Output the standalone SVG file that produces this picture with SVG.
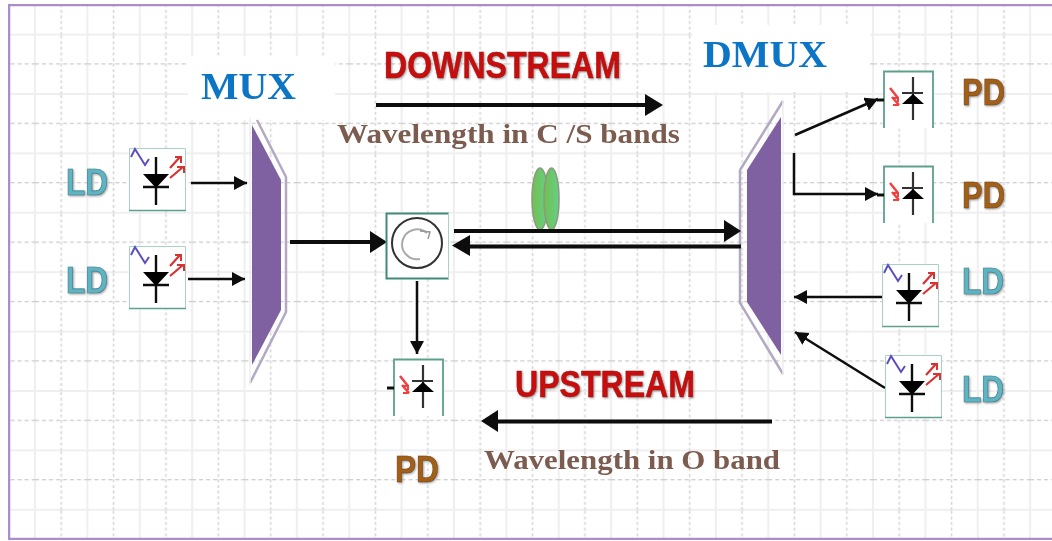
<svg xmlns="http://www.w3.org/2000/svg" width="1052" height="541" viewBox="0 0 1052 541">
<style>
.ld{font:bold 37px "Liberation Sans",Arial,sans-serif;fill:#5fb4c4;stroke:#3f7f8c;stroke-width:.7;filter:url(#sh)}
.pd{font:bold 36px "Liberation Sans",Arial,sans-serif;fill:#a25e16;stroke:#6e4010;stroke-width:.5;filter:url(#sh)}
.ttl{font:bold 37px "Liberation Serif","Times New Roman",serif;fill:#0b74c6}
.dir{font:bold 36px "Liberation Sans",Arial,sans-serif;fill:#c90a0a;stroke:#9c0606;stroke-width:.5;filter:url(#sh)}
.wl{font:bold 27px "Liberation Serif","Times New Roman",serif;fill:#7b5b50}
.mx{fill:#7f60a0;stroke:none}
.mo{fill:none;stroke:#b3a9c2;stroke-width:2.5}
.c{fill:none;stroke:#111;stroke-width:2.5}
.t{fill:none;stroke:#0a0a0a;stroke-width:4}
.box{fill:#fff}
</style>
<defs>
<filter id="soft" x="0" y="0" width="100%" height="100%"><feGaussianBlur stdDeviation=".6"/></filter>
<filter id="sh" x="-10%" y="-10%" width="125%" height="130%"><feDropShadow dx="1" dy="1" stdDeviation="1" flood-color="#555" flood-opacity=".6"/></filter>
<linearGradient id="gr" x1="0" y1="0" x2="1" y2="0"><stop offset="0" stop-color="#74bf4e"/><stop offset="1" stop-color="#64d088"/></linearGradient>
<pattern id="grid" patternUnits="userSpaceOnUse" x="35" y="34.6" width="52.375" height="59.4">
<path d="M0 0V59.4M52.375 0V59.4M0 0H52.375M0 59.4H52.375" fill="none" stroke="#efefef" stroke-width="2.2"/>
<path d="M26.2 1V59.4" fill="none" stroke="#d6d6d6" stroke-width="1.6" stroke-dasharray="3 2.6"/>
<path d="M0 29.3H52.375" fill="none" stroke="#cbcbcb" stroke-width="1.3" stroke-dasharray="4 3"/>
</pattern>
<marker id="hs" markerUnits="userSpaceOnUse" markerWidth="14" markerHeight="15" refX="13" refY="7" orient="auto"><path d="M0 0L13 7L0 14Z" fill="#0a0a0a"/></marker>
<g id="ldi">
<rect class="box" width="57" height="63"/>
<path d="M.5 62.500V.5H56.500V62.500" fill="none" stroke="#a9cfc6" stroke-width="1"/>
<path d="M0 62.500H57" stroke="#5f9f90" stroke-width="1.500"/>
<path d="M27 9V57M14 39H40" stroke="#111" stroke-width="2.400" fill="none"/>
<path d="M14 26H40L27 40Z" fill="#000"/>
<path d="M2 9L6 1L16 17L20 11" fill="none" stroke="#5a4fc0" stroke-width="2"/>
<path d="M41 20L51 9M41 30L54 19" stroke="#d83030" stroke-width="2.200" fill="none"/>
<path d="M46 9H52V15M48 19H55V25" stroke="#d83030" stroke-width="2" fill="none"/>
</g>
<g id="pdi">
<rect class="box" x="-1" width="51" height="57"/>
<path d="M0 57V.5H49V57" fill="none" stroke="#5f9f90" stroke-width="1.800"/>
<path d="M-7 29H0" stroke="#111" stroke-width="3"/>
<path d="M29 6V49M18 22H39" stroke="#333" stroke-width="2.200" fill="none"/>
<path d="M29 23L40 33H18Z" fill="#000"/>
<path d="M6 17L14 27M8 26L15 34" stroke="#f04040" stroke-width="2.500" fill="none"/>
<path d="M8 27H14V31M9 34H15" stroke="#f04040" stroke-width="2" fill="none"/>
</g>
</defs>
<rect width="1052" height="541" fill="#fff"/>
<g filter="url(#soft)">
<g id="background">
<rect x="10" y="6" width="1042" height="533" fill="url(#grid)"/>
<rect x="188" y="56" width="147" height="64" fill="#fff"/>
<rect x="692" y="25" width="178" height="67" fill="#fff"/>
<path d="M1060 4.500H8.500V539.500H1060" fill="none" stroke="#ad8dc9" stroke-width="3.500"/>
</g>
<g id="mux">
<path class="mo" d="M257 120L286 177V312L250 383"/>
<path d="M250 118V385" stroke="#eee" stroke-width="1.500" fill="none"/>
<path class="mx" d="M252 125L281 180V310L252 365Z"/>
<text class="ttl" x="201" y="99" textLength="95" lengthAdjust="spacingAndGlyphs">MUX</text>
</g>
<g id="dmux">
<path class="mo" d="M783 101L740 170V303L783 374"/>
<path class="mx" d="M781 117L747 170V302L781 355Z"/>
<path d="M783 100V375" stroke="#eee" stroke-width="1.500" fill="none"/>
<text class="ttl" x="703" y="67" textLength="124" lengthAdjust="spacingAndGlyphs">DMUX</text>
</g>
<g id="filters">
<ellipse cx="540" cy="199" rx="8" ry="31" fill="url(#gr)" stroke="#8a9a80" stroke-width="1.500"/>
<ellipse cx="551.500" cy="199" rx="7.500" ry="31" fill="url(#gr)" stroke="#8a9a80" stroke-width="1.500"/>
</g>
<g id="connectors">
<path class="c" d="M191 183H247" marker-end="url(#hs)"/>
<path class="c" d="M188 279H245" marker-end="url(#hs)"/>
<path class="t" d="M290 242H370"/><path d="M370 231L387 242L370 253Z" fill="#0a0a0a"/>
<path class="t" d="M454 231H725"/><path d="M724 220L741 231L724 242Z" fill="#0a0a0a"/>
<path class="t" d="M741 246.500H468"/><path d="M470 235L452 245.500L470 256Z" fill="#0a0a0a"/>
<path class="c" d="M417 281V354" marker-end="url(#hs)"/>
<path class="t" d="M376 105H648"/><path d="M645 94L663 105L645 116Z" fill="#0a0a0a"/>
<path class="t" d="M772 421.500H496"/><path d="M498 410L481 421L498 432Z" fill="#0a0a0a"/>
<path class="c" d="M795 135L878 99" marker-end="url(#hs)"/>
<path class="c" d="M794 153V194H878" marker-end="url(#hs)"/>
<path class="c" d="M882 297H794" marker-end="url(#hs)"/>
<path class="c" d="M885 388L795 332" marker-end="url(#hs)"/>
</g>
<g id="circulator">
<rect x="386.500" y="213.500" width="62" height="65" fill="#fff"/>
<path d="M449 213.500H386.500V278.500H449" fill="none" stroke="#3f8a7a" stroke-width="2"/>
<path d="M448.500 213V279" stroke="#a9cfc6" stroke-width="1"/>
<circle cx="417" cy="243" r="25" fill="#fff" stroke="#333" stroke-width="2"/>
<path d="M427 233A15 15 0 1 0 420 259" fill="none" stroke="#aaa" stroke-width="2"/>
<path d="M420 231L430 232L428 239" fill="none" stroke="#999" stroke-width="1.500"/>
</g>
<use id="ld1" href="#ldi" x="129" y="148"/>
<use id="ld2" href="#ldi" x="129" y="246"/>
<use id="ld3" href="#ldi" x="882" y="264"/>
<use id="ld4" href="#ldi" x="885" y="355"/>
<use id="pd1" href="#pdi" x="884" y="71"/>
<use id="pd2" href="#pdi" x="884" y="166"/>
<use id="pd3" href="#pdi" x="394" y="359"/>
<g id="labels">
<text class="ld" x="66" y="195" textLength="42" lengthAdjust="spacingAndGlyphs">LD</text>
<text class="ld" x="66" y="293" textLength="42" lengthAdjust="spacingAndGlyphs">LD</text>
<text class="ld" x="962" y="294" textLength="42" lengthAdjust="spacingAndGlyphs">LD</text>
<text class="ld" x="962" y="402" textLength="42" lengthAdjust="spacingAndGlyphs">LD</text>
<text class="pd" x="962" y="105" textLength="43" lengthAdjust="spacingAndGlyphs">PD</text>
<text class="pd" x="962" y="208" textLength="43" lengthAdjust="spacingAndGlyphs">PD</text>
<text class="pd" x="395" y="482" textLength="44" lengthAdjust="spacingAndGlyphs">PD</text>
<text class="dir" x="384" y="78" textLength="237" lengthAdjust="spacingAndGlyphs">DOWNSTREAM</text>
<text class="dir" x="515" y="397" textLength="180" lengthAdjust="spacingAndGlyphs">UPSTREAM</text>
<text class="wl" x="337" y="143" textLength="343" lengthAdjust="spacingAndGlyphs">Wavelength in C /S bands</text>
<text class="wl" x="484" y="469" textLength="296" lengthAdjust="spacingAndGlyphs">Wavelength in O band</text>
</g>
</g>
</svg>
